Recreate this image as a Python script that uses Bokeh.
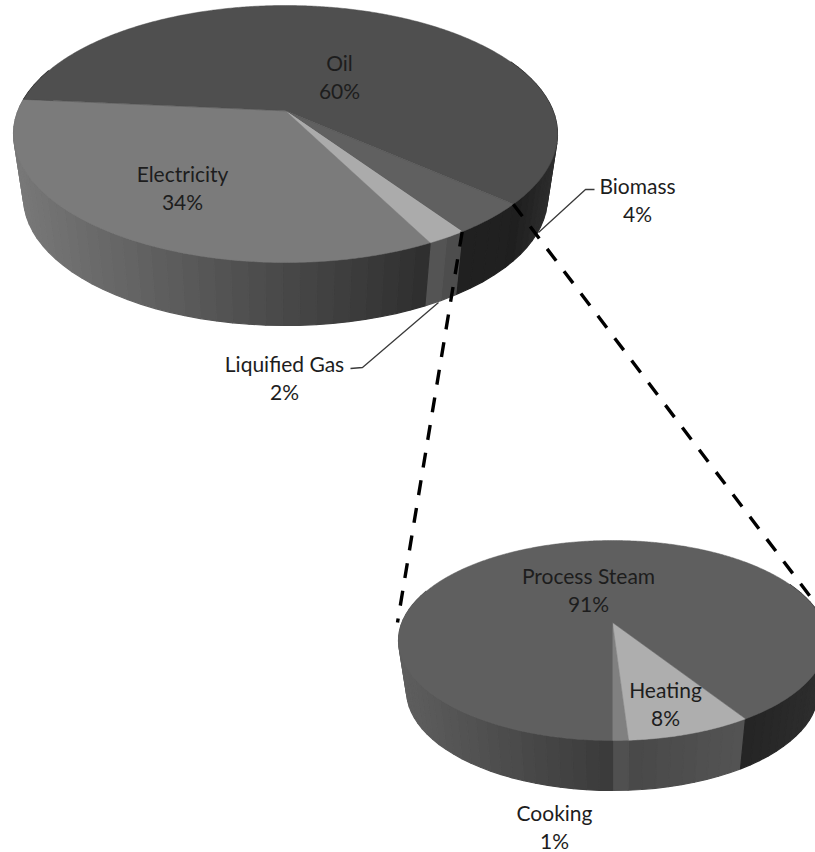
import numpy as np
from bokeh.core.properties import value
from bokeh.embed import file_html
from bokeh.models import ColumnDataSource, Range1d
from bokeh.plotting import figure
from bokeh.resources import INLINE

# Energy mix and the breakdown of its biomass share, clockwise from the first slice
main_names = ["Biomass", "Liquified Gas", "Electricity", "Oil"]
main_values = [4, 2, 34, 60]
main_top = ["#606060", "#ababab", "#7b7b7b", "#4f4f4f"]
main_side_left = [32, 88, 120, 30]
main_side_right = [32, 74, 46, 30]
main_wrap = (28, 46)

detail_names = ["Heating", "Cooking", "Process Steam"]
detail_values = [8, 1, 91]
detail_top = ["#aeaeae", "#808080", "#5f5f5f"]
detail_side_left = [72, 82, 94]
detail_side_right = [84, 78, 58]
detail_wrap = (36, 46)

# Each label: name, centre x, middle y of the first line
main_labels = {"Oil": (339, 62), "Electricity": (182, 173), "Biomass": (637, 185), "Liquified Gas": (284, 363)}
detail_labels = {"Process Steam": (588, 575), "Heating": (665, 689), "Cooking": (554, 812)}

TILT = -0.18
MAIN = dict(cx=285, cy=133.5, rx=272, ry=128.5, bcy=197, brx=262, bry=128, start=41.4)
DETAIL = dict(cx=612, cy=640, rx=214, ry=100, bcy=690, brx=206, bry=100, start=57.6)


def disk(theta):
    """Perspective view of a unit circle: the centre moves up by TILT."""
    t = np.radians(theta)
    x, y = np.cos(t), np.sin(t)
    den = 1 + TILT * y
    return x * np.sqrt(1 - TILT**2) / den, (y + TILT) / den


def rim(g, theta):
    x, y = disk(theta)
    return g["cx"] + g["rx"] * x, g["cy"] + g["ry"] * y


def floor(g, theta):
    x, y = disk(theta)
    return g["cx"] + g["brx"] * x, g["bcy"] + g["bry"] * y


def hex_grey(v):
    v = int(round(v))
    return f"#{v:02x}{v:02x}{v:02x}"


def draw_pie(p, g, values, top_colors, left, right, wrap, side_from, side_to):
    edges = g["start"] + np.concatenate([[0], np.cumsum(values)]) * 3.6
    side = dict(xs=[], ys=[], color=[])
    faces = dict(xs=[], ys=[], color=[])
    for i in range(len(values)):
        a, b = edges[i], edges[i + 1]
        th = np.linspace(a, b, max(int((b - a) * 2), 2) + 1)
        rx, ry = rim(g, th)
        faces["xs"].append([g["cx"], *rx])
        faces["ys"].append([g["cy"] + TILT * g["ry"], *ry])
        faces["color"].append(top_colors[i])
        # The wall is shaded in narrow vertical strips, light to dark along x
        for turn in (-360, 0):
            lo, hi = max(a + turn, side_from), min(b + turn, side_to)
            if hi <= lo:
                continue
            shade_l, shade_r = (wrap if turn else (left[i], right[i]))
            steps = np.linspace(lo, hi, max(int((hi - lo) / 3), 1) + 1)
            step_x = rim(g, steps)[0]
            x_lo, x_hi = step_x.min(), step_x.max()
            for s0, s1 in zip(steps[:-1], steps[1:]):
                x0, y0 = rim(g, s0)
                x1, y1 = rim(g, s1)
                x2, y2 = floor(g, s1)
                x3, y3 = floor(g, s0)
                f = (0.5 * (x0 + x1) - x_lo) / max(x_hi - x_lo, 1e-6)
                side["xs"].append([x0, x1, x2, x3])
                side["ys"].append([y0, y1, y2, y3])
                side["color"].append(hex_grey(shade_l + (shade_r - shade_l) * f))
    p.patches("xs", "ys", source=ColumnDataSource(side), fill_color="color", line_color="color", line_width=1.2)
    p.patches("xs", "ys", source=ColumnDataSource(faces), fill_color="color", line_color="color", line_width=0.5)
    return edges


W, H = 815, 852
p = figure(width=W, height=H, x_range=Range1d(0, W), y_range=Range1d(H, 0),
           output_backend="svg", toolbar_location=None, min_border=0,
           outline_line_color=None, background_fill_color="white", border_fill_color="white")
p.axis.visible = False
p.grid.visible = False

main_edges = draw_pie(p, MAIN, main_values, main_top, main_side_left, main_side_right, main_wrap, -25, 200)
detail_edges = draw_pie(p, DETAIL, detail_values, detail_top, detail_side_left, detail_side_right, detail_wrap, -25, 200)

# Leader lines from the two thin slices to their labels
p.line([538, 585, 594], [232, 189, 189], line_color="#3a3a3a", line_width=1.3)
p.line([438, 362, 350], [302, 367, 368], line_color="#3a3a3a", line_width=1.3)

# Dashed connectors from the biomass slice to the detail pie
x_a, y_a = rim(MAIN, main_edges[0])
x_b, y_b = rim(MAIN, main_edges[1])
p.line([x_a, 815], [y_a, 603], line_color="black", line_width=3.4, line_dash="15 13")
p.line([x_b, 397], [y_b, 622], line_color="black", line_width=3.4, line_dash="15 13")

text_xs, text_ys, texts = [], [], []
for names, vals, labels in ((main_names, main_values, main_labels), (detail_names, detail_values, detail_labels)):
    for n, v in zip(names, vals):
        lx, ly = labels[n]
        text_xs += [lx, lx]
        text_ys += [ly, ly + 27.5]
        texts += [n, f"{v}%"]
p.text(text_xs, text_ys, text=texts, text_font=value("Lato"), text_font_size="21px",
       text_color="#1d1d1d", text_align="center", text_baseline="middle")

open("out.html", "w").write(file_html(p, INLINE))
